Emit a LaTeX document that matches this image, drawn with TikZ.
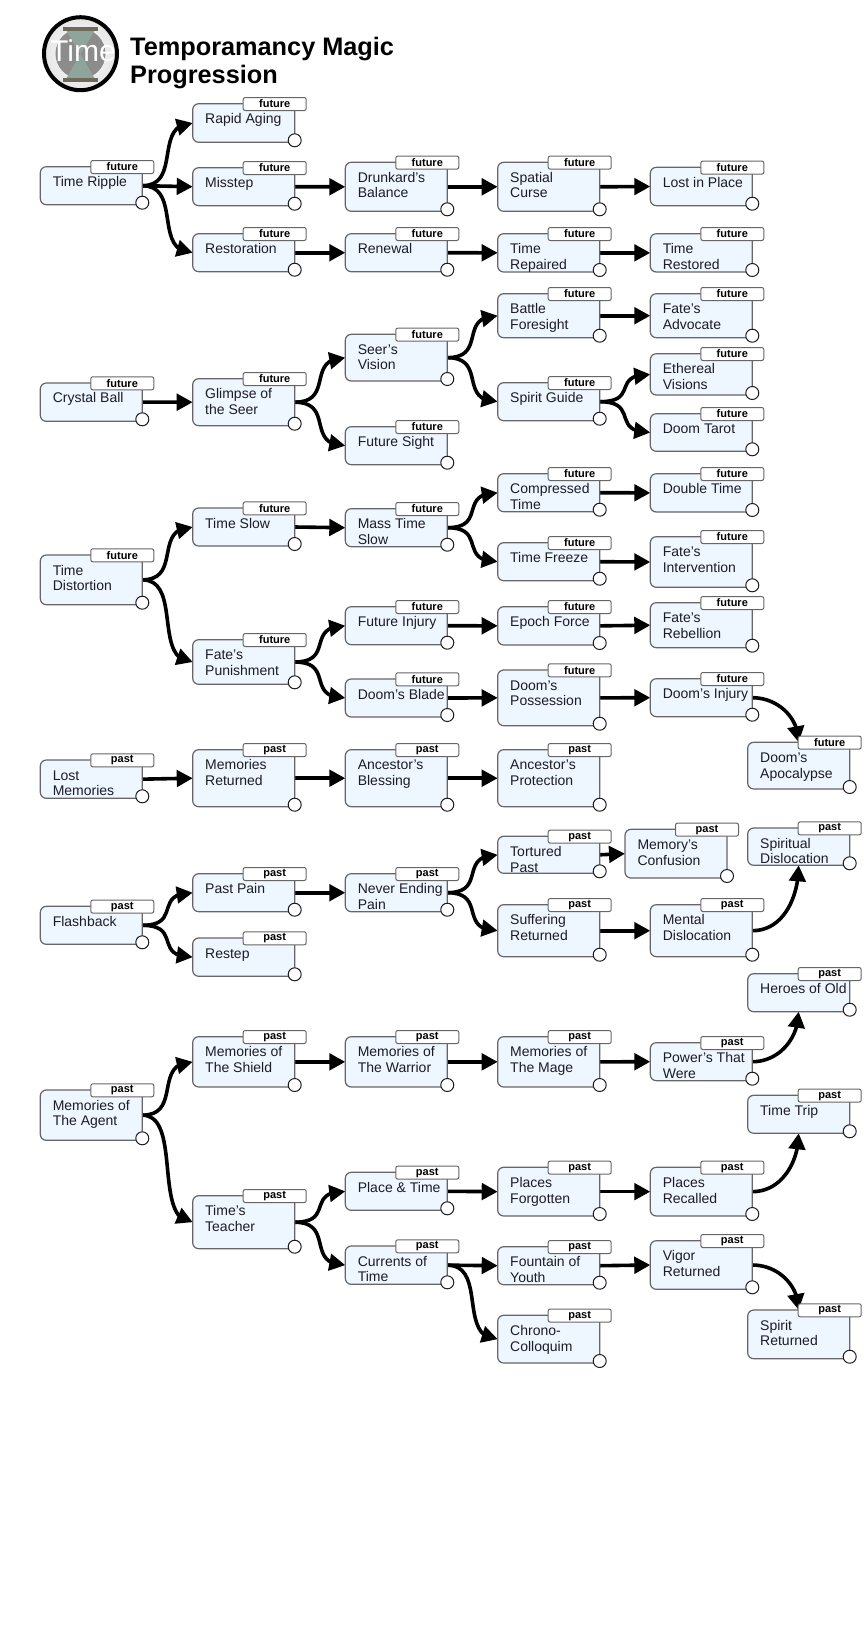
\documentclass[tikz,border=0pt]{standalone}
\usepackage{fontspec}
\setmainfont{Liberation Sans}
\usepackage{tikz}
\usetikzlibrary{arrows.meta,bending,backgrounds}
\definecolor{SpellFill}{HTML}{EEF6FF}
\definecolor{SpellEdge}{HTML}{666666}
\definecolor{SpellInk}{HTML}{1C1C24}
\definecolor{GlassBar}{HTML}{6E6A5A}
\definecolor{GlassSand}{HTML}{8FA59C}
\tikzset{
  spellbox/.style={draw=SpellEdge,fill=SpellFill,line width=1.2pt,rounded corners=6pt,
    inner sep=0pt,outer sep=0pt,anchor=north west,text=SpellInk,
    font=\fontsize{14}{15.7}\selectfont},
  spelltag/.style={draw=SpellEdge,fill=white,line width=1pt,rounded corners=2pt,
    minimum width=63pt,minimum height=13pt,inner sep=0pt,outer sep=0pt,
    font=\fontsize{11}{12}\selectfont\bfseries},
  spelldot/.style={circle,draw=SpellInk,fill=white,line width=1pt,minimum size=13pt,
    inner sep=0pt,outer sep=0pt},
  flow/.style={line width=3.6pt,-{Triangle[length=16pt,width=16.5pt]}},
  branch/.style={flow,out=0,in=180,out distance=40pt,in distance=40pt}
}
% id, left, top, bottom, text, tag
\newcommand{\spell}[6]{%
  \node[spellbox] (#1) at (#2,-#3)
    {\parbox[t][\dimexpr#4pt-#3pt\relax][t]{102pt}{\vspace*{9pt}\raggedright\leftskip=12.5pt\strut #5}};
  \node[spelltag] (#1tag) at ({#2+82},{-#3-0.3}) {#6\hspace{3pt}};
  \node[spelldot] (#1dot) at ({#2+102},{-#4+2}) {};
}
\begin{document}
\begin{tikzpicture}[x=1pt,y=1pt]
  \useasboundingbox (0,0) rectangle (864,-1626);
  % logo
  \shade[inner color=white,outer color=black!10] (80.5,-53.7) circle (37);
  \fill[black!45] (80.5,-53.7) circle (25);
  \fill[GlassSand] (66,-30) -- (95,-30) -- (80.5,-54) -- cycle;
  \fill[GlassSand] (66,-79) -- (95,-79) -- (80.5,-54) -- cycle;
  \fill[GlassBar] (63,-26.5) rectangle (98,-30.5);
  \fill[GlassBar] (63,-78) rectangle (98,-82);
  \node[anchor=base west,inner sep=0pt,text=white,font=\fontsize{30}{30}\selectfont] (logotext) at (50,-61) {Time};
  \draw[black,line width=4pt] (80.5,-53.7) circle (36.5);
  \node[anchor=north west,inner sep=0pt,align=left,font=\fontsize{25.3}{28.5}\selectfont\bfseries] (title) at (130,-35)
    {\strut Temporamancy Magic\\Progression};
  % time ripple
  \spell{ripple}{40.3}{166.7}{204.7}{Time Ripple}{future}
  \spell{aging}{192.7}{103.7}{142.3}{Rapid Aging}{future}
  \spell{misstep}{192.7}{167.7}{205.7}{Misstep}{future}
  \spell{restoration}{192.7}{233.7}{271.7}{Restoration}{future}
  \spell{drunkard}{345.3}{162.3}{211.3}{Drunkard's\\Balance}{future}
  \spell{renewal}{345.3}{233.7}{271.7}{Renewal}{future}
  \spell{spatial}{497.7}{162.3}{211.3}{Spatial\\Curse}{future}
  \spell{repaired}{497.7}{233.7}{272}{Time\\Repaired}{future}
  \spell{lost}{650.3}{167.3}{205.7}{Lost in Place}{future}
  \spell{restored}{650.3}{233.7}{272}{Time\\Restored}{future}
  % crystal ball
  \spell{crystal}{40.3}{383}{421.3}{Crystal Ball}{future}
  \spell{glimpse}{192.7}{378.7}{425.7}{Glimpse of\\the Seer}{future}
  \spell{seer}{345.3}{334.3}{381}{Seer's\\Vision}{future}
  \spell{sight}{345.3}{426.7}{464.7}{Future Sight}{future}
  \spell{battle}{497.7}{293.7}{337.7}{Battle\\Foresight}{future}
  \spell{guide}{497.7}{382.7}{420.7}{Spirit Guide}{future}
  \spell{advocate}{650.3}{293.7}{337.7}{Fate's\\Advocate}{future}
  \spell{ethereal}{650.3}{353.7}{395}{Ethereal\\Visions}{future}
  \spell{tarot}{650.3}{413.7}{451.3}{Doom Tarot}{future}
  % time distortion
  \spell{distortion}{40.3}{555}{604.7}{Time\\Distortion}{future}
  \spell{slow}{192.7}{508}{546}{Time Slow}{future}
  \spell{punishment}{192.7}{639.7}{684.3}{Fate's\\Punishment}{future}
  \spell{massslow}{345.3}{508.7}{546.7}{Mass Time\\Slow}{future}
  \spell{injury}{345.3}{606.7}{644.7}{Future Injury}{future}
  \spell{blade}{345.3}{679}{717}{Doom's Blade}{future}
  \spell{compressed}{497.7}{473.7}{511.7}{Compressed\\Time}{future}
  \spell{freeze}{497.7}{542.7}{580.7}{Time Freeze}{future}
  \spell{epoch}{497.7}{606.7}{645}{Epoch Force}{future}
  \spell{possession}{497.7}{670}{725.7}{Doom's\\Possession}{future}
  \spell{double}{650.3}{473.7}{512}{Double Time}{future}
  \spell{intervention}{650.3}{536.7}{587.3}{Fate's\\Intervention}{future}
  \spell{rebellion}{650.3}{602.7}{647.7}{Fate's\\Rebellion}{future}
  \spell{doominjury}{650.3}{678.7}{716.7}{Doom's Injury}{future}
  \spell{apocalypse}{747.7}{742.3}{789}{Doom's\\Apocalypse}{future}
  % lost memories
  \spell{lostmem}{40.3}{760}{798.3}{Lost\\Memories}{past}
  \spell{returned}{192.7}{749.7}{806.7}{Memories\\Returned}{past}
  \spell{blessing}{345.3}{749.7}{806.7}{Ancestor's\\Blessing}{past}
  \spell{protection}{497.7}{749.7}{806.7}{Ancestor's\\Protection}{past}
  % flashback
  \spell{flashback}{40.3}{906.3}{944.3}{Flashback}{past}
  \spell{pain}{192.7}{873.7}{911.7}{Past Pain}{past}
  \spell{restep}{192.7}{938}{976.3}{Restep}{past}
  \spell{ending}{345.3}{873.7}{911.7}{Never Ending\\Pain}{past}
  \spell{tortured}{497.7}{836.3}{873.3}{Tortured\\Past}{past}
  \spell{suffering}{497.7}{904.7}{956.7}{Suffering\\Returned}{past}
  \spell{confusion}{625}{829.3}{878}{Memory's\\Confusion}{past}
  \spell{mental}{650.3}{904.7}{956.7}{Mental\\Dislocation}{past}
  \spell{spiritual}{747.7}{828}{865.3}{Spiritual\\Dislocation}{past}
  % memories of the agent
  \spell{agent}{40.3}{1090}{1140.3}{Memories of\\The Agent}{past}
  \spell{shield}{192.7}{1036.7}{1087}{Memories of\\The Shield}{past}
  \spell{teacher}{192.7}{1195.7}{1248.7}{Time's\\Teacher}{past}
  \spell{warrior}{345.3}{1036.7}{1087}{Memories of\\The Warrior}{past}
  \spell{place}{345.3}{1172.3}{1210.3}{Place \& Time}{past}
  \spell{currents}{345.3}{1246}{1284.3}{Currents of\\Time}{past}
  \spell{mage}{497.7}{1036.7}{1087}{Memories of\\The Mage}{past}
  \spell{forgotten}{497.7}{1167.3}{1216}{Places\\Forgotten}{past}
  \spell{fountain}{497.7}{1246.7}{1284.7}{Fountain of\\Youth}{past}
  \spell{chrono}{497.7}{1315.3}{1363}{Chrono-\\Colloquim}{past}
  \spell{powers}{650.3}{1042.7}{1080.7}{Power's That\\Were}{past}
  \spell{recalled}{650.3}{1167.3}{1216}{Places\\Recalled}{past}
  \spell{vigor}{650.3}{1240.7}{1289.3}{Vigor\\Returned}{past}
  \spell{heroes}{747.7}{973.7}{1011.7}{Heroes of Old}{past}
  \spell{trip}{747.7}{1095.3}{1133.3}{Time Trip}{past}
  \spell{spiritret}{747.7}{1310}{1358.7}{Spirit\\Returned}{past}
  % connectors go under the boxes
  \begin{pgfonlayer}{background}
    \draw[branch] (ripple.east) to (aging.west);
    \draw[flow] (ripple.east) -- (misstep.west);
    \draw[branch] (ripple.east) to (restoration.west);
    \draw[flow] (misstep.east) -- (drunkard.west);
    \draw[flow] (drunkard.east) -- (spatial.west);
    \draw[flow] (spatial.east) -- (lost.west);
    \draw[flow] (restoration.east) -- (renewal.west);
    \draw[flow] (renewal.east) -- (repaired.west);
    \draw[flow] (repaired.east) -- (restored.west);
    \draw[flow] (crystal.east) -- (glimpse.west);
    \draw[branch] (glimpse.east) to (seer.west);
    \draw[branch] (glimpse.east) to (sight.west);
    \draw[branch] (seer.east) to (battle.west);
    \draw[branch] (seer.east) to (guide.west);
    \draw[flow] (battle.east) -- (advocate.west);
    \draw[branch] (guide.east) to (ethereal.west);
    \draw[branch] (guide.east) to (tarot.west);
    \draw[branch] (distortion.east) to (slow.west);
    \draw[branch] (distortion.east) to (punishment.west);
    \draw[flow] (slow.east) -- (massslow.west);
    \draw[branch] (massslow.east) to (compressed.west);
    \draw[branch] (massslow.east) to (freeze.west);
    \draw[flow] (compressed.east) -- (double.west);
    \draw[flow] (freeze.east) -- (intervention.west);
    \draw[branch] (punishment.east) to (injury.west);
    \draw[branch] (punishment.east) to (blade.west);
    \draw[flow] (injury.east) -- (epoch.west);
    \draw[flow] (epoch.east) -- (rebellion.west);
    \draw[flow] (blade.east) -- (possession.west);
    \draw[flow] (possession.east) -- (doominjury.west);
    \draw[flow] (doominjury.east) to[out=0,in=90] (apocalypse.north);
    \draw[flow] (lostmem.east) -- (returned.west);
    \draw[flow] (returned.east) -- (blessing.west);
    \draw[flow] (blessing.east) -- (protection.west);
    \draw[branch] (flashback.east) to (pain.west);
    \draw[branch] (flashback.east) to (restep.west);
    \draw[flow] (pain.east) -- (ending.west);
    \draw[branch] (ending.east) to (tortured.west);
    \draw[branch] (ending.east) to (suffering.west);
    \draw[flow] (tortured.east) -- (confusion.west);
    \draw[flow] (suffering.east) -- (mental.west);
    \draw[flow] (mental.east) to[out=0,in=-90] (spiritual.south);
    \draw[branch] (agent.east) to (shield.west);
    \draw[branch] (agent.east) to (teacher.west);
    \draw[flow] (shield.east) -- (warrior.west);
    \draw[flow] (warrior.east) -- (mage.west);
    \draw[flow] (mage.east) -- (powers.west);
    \draw[flow] (powers.east) to[out=0,in=-90] (heroes.south);
    \draw[branch] (teacher.east) to (place.west);
    \draw[branch] (teacher.east) to (currents.west);
    \draw[flow] (place.east) -- (forgotten.west);
    \draw[flow] (forgotten.east) -- (recalled.west);
    \draw[flow] (recalled.east) to[out=0,in=-90] (trip.south);
    \draw[flow] (currents.east) -- (fountain.west);
    \draw[branch] (currents.east) to (chrono.west);
    \draw[flow] (fountain.east) -- (vigor.west);
    \draw[flow] (vigor.east) to[out=0,in=90] (spiritret.north);
  \end{pgfonlayer}
\end{tikzpicture}
\end{document}
